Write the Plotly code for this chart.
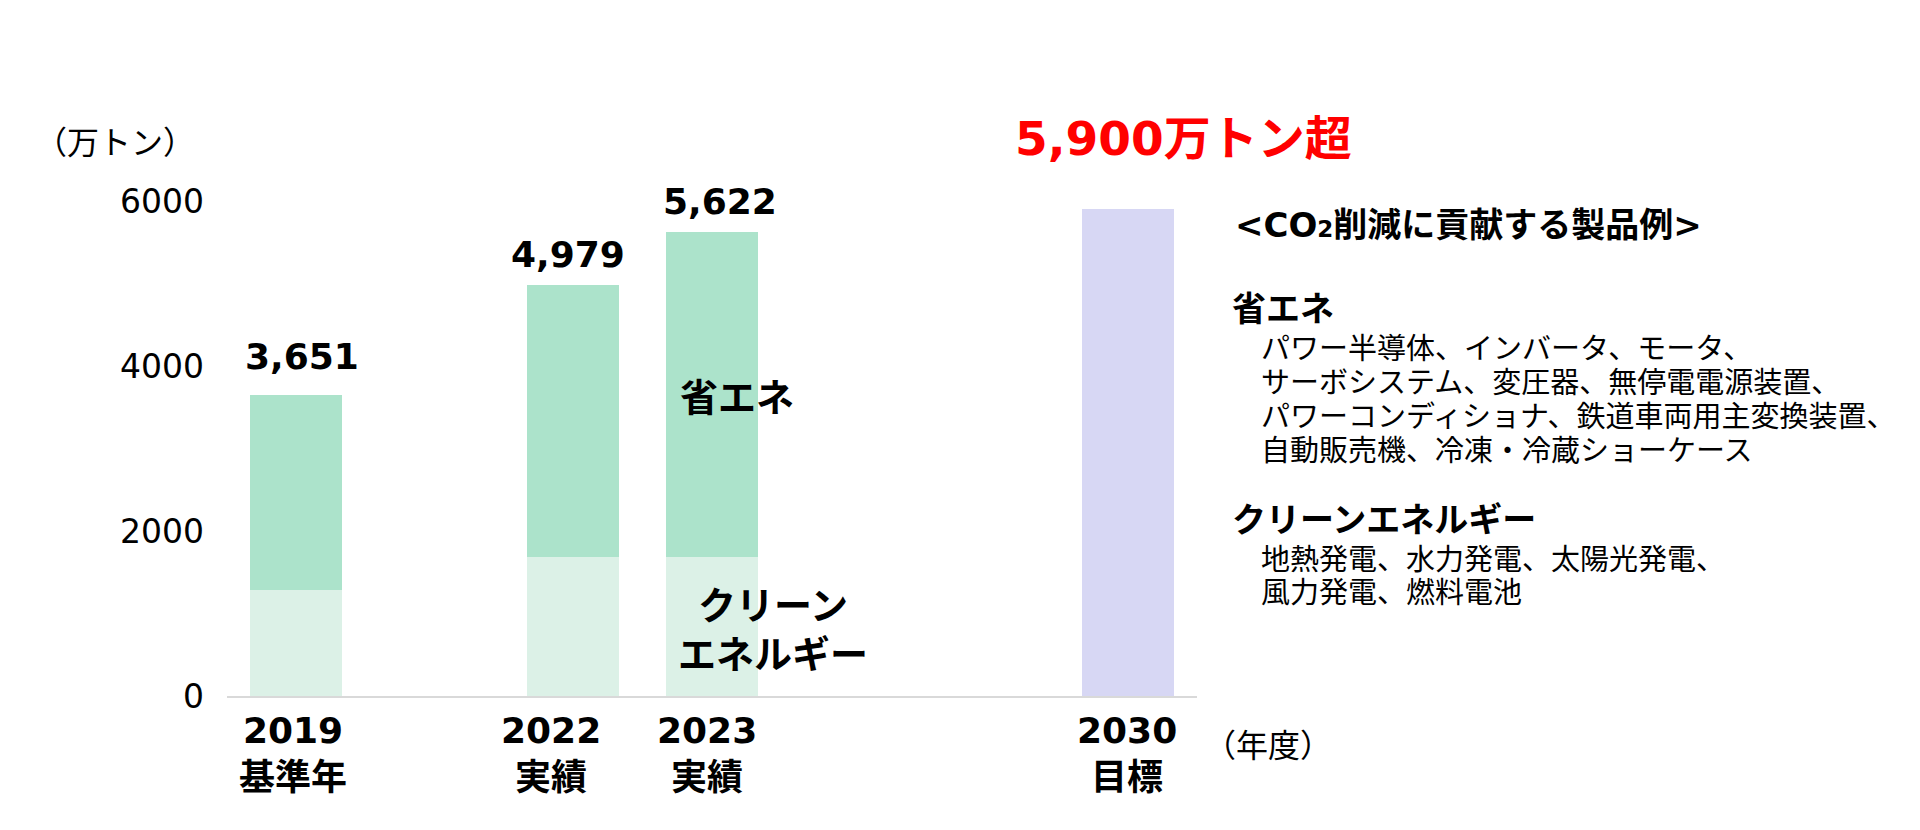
import plotly.graph_objects as go

# ---------------- data ----------------
years = ["2019", "2022", "2023", "2030"]
year_notes = ["基準年", "実績", "実績", "目標"]
actual_years = ["2019", "2022", "2023"]
clean_energy = [1280, 1680, 1680]          # クリーンエネルギー (lower segment)
energy_saving = [2371, 3299, 3942]         # 省エネ (upper segment)
total_labels = ["3,651", "4,979", "5,622"]
total_values = [3651, 4979, 5622]
target_year = ["2030"]
target_value = [5900]
target_label = "5,900万トン超"
y_ticks = [0, 2000, 4000, 6000]

panel_title = "&lt;CO<span style='font-size:23px'>2</span>削減に貢献する製品例&gt;"
saving_header = "省エネ"
saving_items = [
    "パワー半導体、インバータ、モータ、",
    "サーボシステム、変圧器、無停電電源装置、",
    "パワーコンディショナ、鉄道車両用主変換装置、",
    "自動販売機、冷凍・冷蔵ショーケース",
]
clean_header = "クリーンエネルギー"
clean_items = [
    "地熱発電、水力発電、太陽光発電、",
    "風力発電、燃料電池",
]

# ---------------- layout helpers ----------------
slot = {"2019": 0, "2022": 2, "2023": 3, "2030": 6}
W, H = 1920, 830
L, R, T, B = 227, 723, 160, 134
PW, PH = W - L - R, H - T - B

def px(xp):
    return (xp - L) / PW

def py(yp):
    return (H - B - yp) / PH

LATIN = "DejaVu Sans, Noto Sans CJK JP"
CJK = "Noto Sans CJK JP"
C_SAVE = "#ACE3CB"
C_CLEAN = "#DCF1E7"
C_TARGET = "#D7D7F4"
BW = 0.664

fig = go.Figure()
fig.add_trace(go.Bar(x=[slot[y] for y in actual_years], y=clean_energy,
                     marker=dict(color=C_CLEAN, line=dict(width=0)), width=BW,
                     name="クリーンエネルギー", hoverinfo="y"))
fig.add_trace(go.Bar(x=[slot[y] for y in actual_years], y=energy_saving,
                     marker=dict(color=C_SAVE, line=dict(width=0)), width=BW,
                     name="省エネ", hoverinfo="y"))
fig.add_trace(go.Bar(x=[slot[y] for y in target_year], y=target_value,
                     marker=dict(color=C_TARGET, line=dict(width=0)), width=BW,
                     name="目標", hoverinfo="y"))

ann = []
# total labels above bars
lbl_dx = [6, -5, 8]
lbl_dy = [38, 31, 31]
for yr, lab, v, dx, dy in zip(actual_years, total_labels, total_values, lbl_dx, lbl_dy):
    ann.append(dict(x=slot[yr], y=v, xref="x", yref="y", text=f"<b>{lab}</b>",
                    showarrow=False, xanchor="center", yanchor="middle",
                    xshift=dx, yshift=dy, font=dict(family=LATIN, size=36, color="#000")))
# target label
ann.append(dict(x=slot["2030"], y=target_value[0], xref="x", yref="y",
                text=f"<b>{target_label}</b>", showarrow=False,
                xanchor="center", yanchor="middle", xshift=56, yshift=71,
                font=dict(family=LATIN, size=47, color="#FF0000")))
# in-bar segment labels (2023 bar)
ann.append(dict(x=slot["2023"], y=clean_energy[2] + energy_saving[2] / 2, xref="x", yref="y",
                text="<b>省エネ</b>", showarrow=False, xanchor="center", yanchor="middle",
                xshift=25, font=dict(family=CJK, size=38, color="#000")))
ann.append(dict(x=slot["2023"], y=clean_energy[2] / 2, xref="x", yref="y",
                text="<b>クリーン<br>エネルギー</b>", showarrow=False, xanchor="center",
                yanchor="middle", xshift=61, align="center",
                font=dict(family=CJK, size=38, color="#000")))
# category labels
cat_dx = [-3, -22, -5, -1]
for yr, note, dx in zip(years, year_notes, cat_dx):
    ann.append(dict(x=slot[yr], y=0, xref="x", yref="paper",
                    text=f"<b>{yr}<br>{note}</b>", showarrow=False,
                    xanchor="center", yanchor="top", xshift=dx, yshift=-12,
                    align="center", font=dict(family=LATIN, size=36, color="#000")))
# unit labels
ann.append(dict(x=px(33), y=py(140), xref="paper", yref="paper", text="（万トン）",
                showarrow=False, xanchor="left", yanchor="middle",
                font=dict(family=CJK, size=32, color="#000")))
ann.append(dict(x=px(1202), y=py(743), xref="paper", yref="paper", text="（年度）",
                showarrow=False, xanchor="left", yanchor="middle",
                font=dict(family=CJK, size=32, color="#000")))
# right panel
ann.append(dict(x=px(1233), y=py(225), xref="paper", yref="paper", text=f"<b>{panel_title}</b>",
                showarrow=False, xanchor="left", yanchor="middle",
                font=dict(family=LATIN, size=34, color="#000")))
ann.append(dict(x=px(1230), y=py(306), xref="paper", yref="paper", text=f"<b>{saving_header}</b>",
                showarrow=False, xanchor="left", yanchor="middle",
                font=dict(family=CJK, size=34, color="#000")))
for i, t in enumerate(saving_items):
    ann.append(dict(x=px(1259), y=py(346 + 34 * i), xref="paper", yref="paper", text=t,
                    showarrow=False, xanchor="left", yanchor="middle",
                    font=dict(family=CJK, size=29, color="#000")))
ann.append(dict(x=px(1230), y=py(517), xref="paper", yref="paper", text=f"<b>{clean_header}</b>",
                showarrow=False, xanchor="left", yanchor="middle",
                font=dict(family=CJK, size=34, color="#000")))
for i, t in enumerate(clean_items):
    ann.append(dict(x=px(1259), y=py(557 + 33 * i), xref="paper", yref="paper", text=t,
                    showarrow=False, xanchor="left", yanchor="middle",
                    font=dict(family=CJK, size=29, color="#000")))

fig.update_layout(
    width=W, height=H,
    margin=dict(l=L, r=R, t=T, b=B, pad=0),
    barmode="stack", bargap=0,
    showlegend=False,
    plot_bgcolor="#FFFFFF", paper_bgcolor="#FFFFFF",
    annotations=ann,
    xaxis=dict(range=[-0.5, 6.5], showticklabels=False, ticks="", showgrid=False,
               zeroline=False, showline=True, linecolor="#D9D9D9", linewidth=2,
               fixedrange=True),
    yaxis=dict(range=[0, 6500], tickvals=y_ticks, ticktext=[str(v) for v in y_ticks],
               showgrid=False, zeroline=False, showline=False, ticks="",
               ticklabelstandoff=22,
               tickfont=dict(family="DejaVu Sans", size=33, color="#000"),
               fixedrange=True),
)

fig.write_html("out.html")
